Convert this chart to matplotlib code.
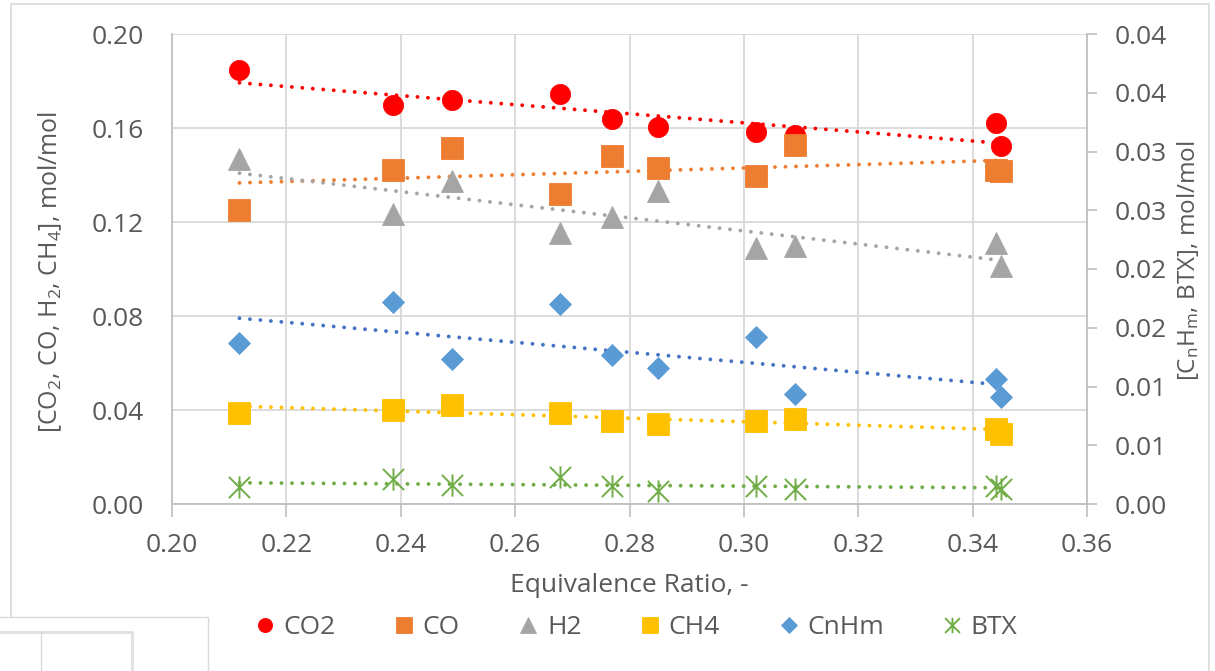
import numpy as np
import matplotlib
matplotlib.use('Agg')
import matplotlib.pyplot as plt
from matplotlib.path import Path
from matplotlib.lines import Line2D

# datos (relación de equivalencia vs fracción molar)
er = [0.2118, 0.2387, 0.2489, 0.2678, 0.2769, 0.2849, 0.3021, 0.3089, 0.3440, 0.3450]

co2 = [0.1847, 0.1698, 0.1718, 0.1744, 0.1640, 0.1606, 0.1584, 0.1570, 0.1620, 0.1523]
co = [0.1249, 0.1423, 0.1513, 0.1320, 0.1479, 0.1430, 0.1396, 0.1527, 0.1423, 0.1416]
h2 = [0.1470, 0.1235, 0.1373, 0.1153, 0.1221, 0.1332, 0.1090, 0.1097, 0.1111, 0.1014]
ch4 = [0.0388, 0.0402, 0.0423, 0.0388, 0.0353, 0.0341, 0.0355, 0.0362, 0.0319, 0.0299]
cnhm = [0.01373, 0.01715, 0.01230, 0.01700, 0.01265, 0.01160, 0.01425, 0.00940, 0.01066, 0.00912]
btx = [0.00142, 0.00211, 0.00162, 0.00228, 0.00156, 0.00114, 0.00154, 0.00128, 0.00154, 0.00128]

x_ticks = [0.20, 0.22, 0.24, 0.26, 0.28, 0.30, 0.32, 0.34, 0.36]
left_ticks = [0.00, 0.04, 0.08, 0.12, 0.16, 0.20]
right_ticks = [0.0, 0.005, 0.010, 0.015, 0.020, 0.025, 0.030, 0.035, 0.040]
# Excel redondea 0.005 -> 0.01, etc.
right_labels = ['0.00', '0.01', '0.01', '0.02', '0.02', '0.03', '0.03', '0.04', '0.04']

plt.rcParams['font.family'] = ['Open Sans', 'DejaVu Sans']
plt.rcParams['mathtext.default'] = 'regular'

W, H = 1215, 671
TXT = '#595959'
GRID = '#D9D9D9'
AXC = '#BFBFBF'
FS = 19

fig = plt.figure(figsize=(W / 100, H / 100), dpi=100)
ax = fig.add_axes([172 / W, 1 - 504 / H, (1087 - 172) / W, (504 - 34) / H])
ax2 = ax.twinx()

# marcador tipo asterisco de Excel
star = Path([(-1, -1), (1, 1), (-1, 1), (1, -1), (0, -1.05), (0, 1.05)],
            [Path.MOVETO, Path.LINETO, Path.MOVETO, Path.LINETO, Path.MOVETO, Path.LINETO])

series = [
    (ax, co2, 'CO2', 'o', 14.5, '#FF0000', '#FF0000'),
    (ax, co, 'CO', 's', 15.5, '#ED7D31', '#ED7D31'),
    (ax, h2, 'H2', '^', 15.5, '#A5A5A5', '#A5A5A5'),
    (ax, ch4, 'CH4', 's', 15.5, '#FFC000', '#FFC000'),
    (ax2, cnhm, 'CnHm', 'D', 11.0, '#5B9BD5', '#4472C4'),
    (ax2, btx, 'BTX', star, 16.0, '#70AD47', '#70AD47'),
]

handles = []
for axis, vals, name, mk, ms, col, tcol in series:
    if mk is star:
        h, = axis.plot(er, vals, ls='none', marker=mk, markersize=ms, mfc='none',
                       mec=col, mew=1.4, label=name, zorder=3)
    else:
        h, = axis.plot(er, vals, ls='none', marker=mk, markersize=ms, mfc=col,
                       mec=col, mew=0.6, label=name, zorder=3)
    handles.append(h)
    # línea de tendencia lineal (como en Excel)
    p = np.polyfit(er, vals, 1)
    xs = np.array([min(er), max(er)])
    axis.plot(xs, np.polyval(p, xs), color=tcol, lw=2.8, ls=(0, (0.001, 2.7)),
              dash_capstyle='round', zorder=2)

ax.set_xlim(0.20, 0.36)
ax.set_ylim(0, 0.20)
ax2.set_ylim(0, 0.04)

ax.set_xticks(x_ticks)
ax.set_xticklabels([f'{v:.2f}' for v in x_ticks])
ax.set_yticks(left_ticks)
ax.set_yticklabels([f'{v:.2f}' for v in left_ticks])
ax2.set_yticks(right_ticks)
ax2.set_yticklabels(right_labels)

ax.grid(True, color=GRID, lw=1.3)
ax.set_axisbelow(True)

ax.tick_params(axis='x', direction='out', length=9, width=1.2, color=AXC,
               labelsize=FS, labelcolor=TXT, pad=12)
ax.tick_params(axis='y', length=0, labelsize=FS, labelcolor=TXT, pad=20)
ax2.tick_params(axis='y', direction='out', length=7, width=1.2, color=AXC,
                labelsize=FS, labelcolor=TXT, pad=13)

for s in ['top', 'right']:
    ax.spines[s].set_visible(False)
for s in ['top', 'left', 'bottom']:
    ax2.spines[s].set_visible(False)
ax.spines['left'].set_color(AXC)
ax.spines['bottom'].set_color(AXC)
ax2.spines['right'].set_color(AXC)
for s in [ax.spines['left'], ax.spines['bottom'], ax2.spines['right']]:
    s.set_linewidth(1.3)

ax.set_xlabel('Equivalence Ratio, -', fontsize=FS, color=TXT)
ax.xaxis.label.set_va('center')
ax.xaxis.set_label_coords(0.5, (504 - 586) / 470)

ax.set_ylabel('[CO$_2$, CO, H$_2$, CH$_4$], mol/mol', fontsize=18, color=TXT)
ax.yaxis.label.set_va('center')
ax.yaxis.set_label_coords((50 - 172) / 915, (504 - 272) / 470)

ax2.set_ylabel('[C$_n$H$_m$, BTX], mol/mol', fontsize=17.5, color=TXT)
ax2.yaxis.label.set_va('center')
ax2.yaxis.set_label_coords((1188 - 172) / 915, (504 - 261) / 470)

ax.legend(handles=handles, loc='center', bbox_to_anchor=((636 - 172) / 915, (504 - 628) / 470),
          ncol=6, frameon=False, fontsize=FS, labelcolor=TXT, markerscale=0.7,
          handlelength=0.8, handletextpad=0.3, columnspacing=2.2)


def fig_line(xs, ys, **kw):
    fig.add_artist(Line2D([x / W for x in xs], [1 - y / H for y in ys],
                          transform=fig.transFigure, **kw))


# borde del área del gráfico y restos de la captura
fig_line([11, 11, 1209, 1209], [617, 4, 4, 671], color=GRID, lw=1.2)
fig_line([0, 208, 208], [617, 617, 671], color=GRID, lw=1.0)
fig_line([0, 132, 132], [632, 632, 671], color='#E0E0E0', lw=2.0)
fig_line([41, 41], [632, 671], color=GRID, lw=1.0)

fig.savefig('out.png', dpi=100)
